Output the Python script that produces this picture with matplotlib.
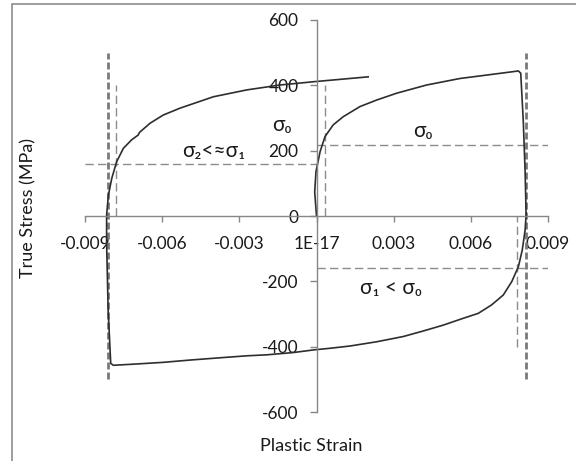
import matplotlib
matplotlib.use("Agg")
import matplotlib.pyplot as plt
from matplotlib.patches import Rectangle

plt.rcParams['font.family'] = ['Lato', 'DejaVu Sans']

# hysteresis loop: tension -> unload -> compression -> reload
strain = [0.0, -0.00007, -0.00002, 0.00014, 0.00033, 0.00065, 0.00104, 0.00169,
          0.00234, 0.00312, 0.00428, 0.00558, 0.00687, 0.00785, 0.00794,
          0.00804, 0.00811, 0.00815, 0.00811, 0.00800, 0.00785, 0.00759,
          0.00726, 0.00681, 0.00629, 0.00571, 0.00493, 0.00415, 0.00337,
          0.00234, 0.00130, 0.00052, -0.00012, -0.0009, -0.00194, -0.00271,
          -0.00375, -0.00492, -0.00596, -0.00699, -0.0079, -0.0080, -0.0081,
          -0.00816, -0.00816, -0.00809, -0.00796, -0.00777, -0.00751, -0.00719,
          -0.00693, -0.00688, -0.00647, -0.00596, -0.00531, -0.00401, -0.00271,
          -0.00142, -0.00012, 0.00201]
stress = [0, 74, 136, 197, 243, 279, 304, 335,
          355, 376, 401, 421, 434, 444, 437,
          289, 136, 3, -43, -104, -155, -201,
          -242, -272, -298, -313, -334, -352, -369,
          -385, -398, -405, -410, -418, -425, -428,
          -434, -441, -448, -453, -457, -451, -288,
          -84, 3, 64, 115, 166, 207, 233,
          248, 256, 284, 309, 330, 365, 386,
          401, 411, 426]

# guide lines
thick_x = [-0.00812, 0.00813]
thick_span = (-500, 500)
thin_vlines = [(-0.0078, 0, 400), (0.00033, 0, 400), (0.00778, -400, 0)]
thin_hlines = [(158, -0.009, 0), (217, 0, 0.009), (-160, 0, 0.009)]

annotations = [(-0.00135, 279, 'σ₀'), (-0.0040, 200, 'σ₂<≈σ₁'),
               (0.00415, 260, 'σ₀'), (0.0029, -221, 'σ₁ < σ₀')]

xticks = [-0.009, -0.006, -0.003, 0, 0.003, 0.006, 0.009]
xticklabels = ['-0.009', '-0.006', '-0.003', '1E-17', '0.003', '0.006', '0.009']
yticks = [-600, -400, -200, 0, 200, 400, 600]
yticklabels = ['-600', '-400', '-200', '0', '200', '400', '600']

fig = plt.figure(figsize=(5.76, 4.61), dpi=100)
fig.patches.append(Rectangle((11.5 / 576, -0.1), 1.2, 1.1 - 4.5 / 461,
                             transform=fig.transFigure, fill=False,
                             edgecolor='#8c8c8c', linewidth=1.2))
ax = fig.add_axes([85 / 576, 1 - 412 / 461, 463 / 576, 392 / 461])

for x in thick_x:
    ax.plot([x, x], thick_span, color='#7a7a7a', linewidth=2.0,
            linestyle=(0, (2.5, 1.1)))
for x, y0, y1 in thin_vlines:
    ax.plot([x, x], [y0, y1], color='#8c8c8c', linewidth=1.0,
            linestyle=(0, (6, 3)))
for y, x0, x1 in thin_hlines:
    ax.plot([x0, x1], [y, y], color='#8c8c8c', linewidth=1.0,
            linestyle=(0, (6, 3)))

ax.plot(strain, stress, color='#2e2e2e', linewidth=1.2)

for x, y, s in annotations:
    ax.text(x, y, s, fontsize=15, ha='center', va='center', color='#1a1a1a')

ax.set_xlim(-0.009, 0.009)
ax.set_ylim(-600, 600)
for side in ['top', 'right']:
    ax.spines[side].set_visible(False)
ax.spines['left'].set_position(('data', 0))
ax.spines['bottom'].set_position(('data', 0))
for side in ['left', 'bottom']:
    ax.spines[side].set_color('#868686')
    ax.spines[side].set_linewidth(1.0)

ax.set_xticks(xticks)
ax.set_xticklabels(xticklabels)
ax.set_yticks(yticks)
ax.set_yticklabels(yticklabels)
ax.tick_params(axis='x', direction='out', length=4.5, width=1, color='#868686',
               pad=10, labelsize=12.5, labelcolor='#1a1a1a')
ax.tick_params(axis='y', direction='out', length=5, width=1, color='#868686',
               pad=8, labelsize=12.5, labelcolor='#1a1a1a')

fig.text(28 / 576, 1 - 208 / 461, 'True Stress (MPa)', rotation=90,
         ha='center', va='center', fontsize=13, color='#1a1a1a')
fig.text(311 / 576, 1 - 446 / 461, 'Plastic Strain', ha='center', va='center',
         fontsize=13, color='#1a1a1a')

fig.savefig('out.png', dpi=100)
